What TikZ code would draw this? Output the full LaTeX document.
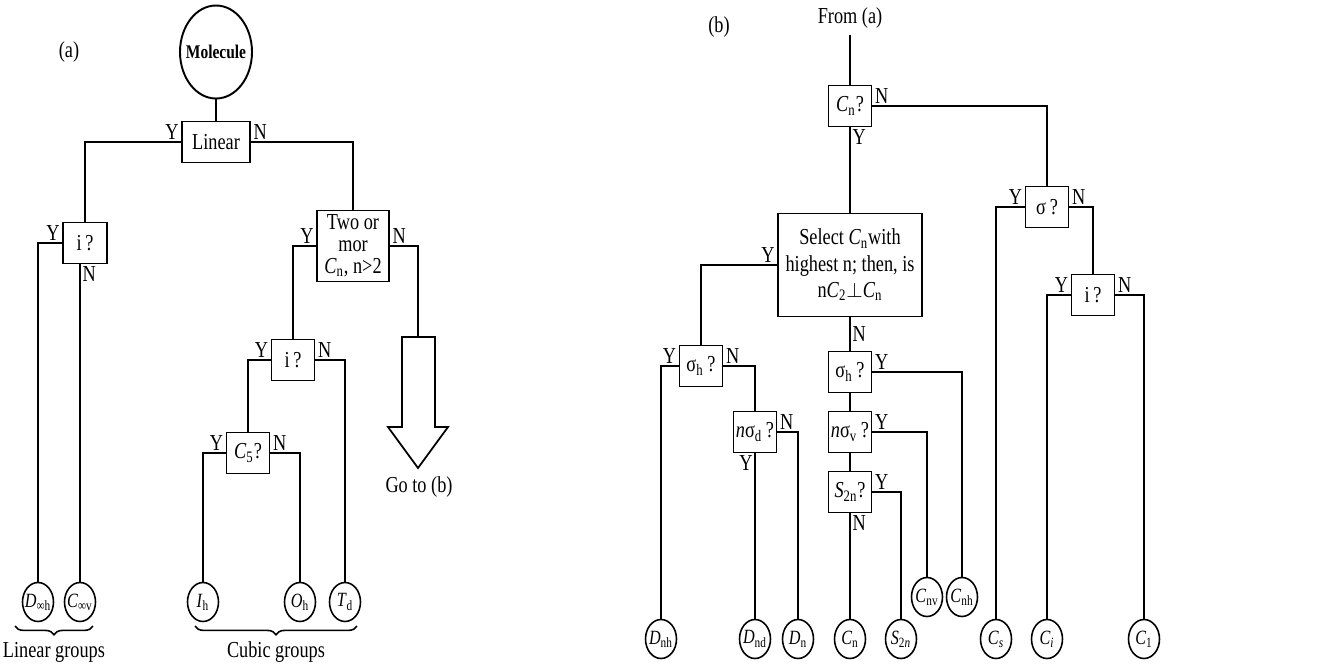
\documentclass[tikz,border=0pt]{standalone}
\usepackage{fontspec}
\setmainfont[FakeStretch=0.8]{Liberation Serif}
\usepackage{tikz}
\usetikzlibrary{shapes.geometric,decorations.pathreplacing,calc}
\newcommand{\grp}[2]{\textit{#1}\textsubscript{#2}}

\begin{document}
\begin{tikzpicture}[x=0.2mm,y=-0.2mm,line width=0.9pt,
	every node/.append style={font=\fontsize{13}{14}\selectfont},
	box/.style={draw,line width=1.1pt,inner sep=0pt,align=center,minimum width=8.6mm,minimum height=8.2mm},
	grp/.style={draw,ellipse,line width=0.9pt,inner sep=-1.5pt,minimum width=6.2mm,minimum height=7.8mm,font=\fontsize{11.5}{12}\selectfont},
	yn/.style={inner sep=1pt}]
	\useasboundingbox (0,0) rectangle (1322,667);
	% (a)
	\node (la) at (69,52) {(a)};
	\node[draw,ellipse,line width=1.1pt,minimum width=14.4mm,minimum height=18.6mm,inner sep=-3.5pt,font=\fontsize{11}{12}\selectfont\bfseries] (mol) at (216,52) {Molecule};
	\node[box,minimum width=13.6mm] (lin) at (216,142) {Linear};
	\node[box,minimum width=8.8mm] (ia) at (85,243) {i\,?};
	\node[box,minimum width=14.4mm,minimum height=14.2mm,font=\fontsize{13}{12.5}\selectfont] (two) at (353,246) {Two or\\mor\\\grp{C}{n}, n>2};
	\node[box] (ib) at (293,360) {i\,?};
	\node[box] (cfive) at (248,453) {\grp{C}{5}?};
	\node[grp] (dinfh) at (38,602) {\grp{D}{∞h}};
	\node[grp] (cinfv) at (80,602) {\grp{C}{∞v}};
	\node[grp] (ih) at (203,602) {\grp{I}{h}};
	\node[grp] (oh) at (300,602) {\grp{O}{h}};
	\node[grp] (td) at (345,602) {\grp{T}{d}};
	\coordinate (arr) at (418,337);
	\draw[line width=1pt] (arr) -- (402,337) -- (402,427) -- (388,427) -- (418,468) -- (448,427) -- (435,427) -- (435,337) -- cycle;
	\node (goto) at (419,487) {Go to (b)};

	\draw (mol) -- (lin);
	\draw (lin.west) -| (ia.north) node[yn,at start,above left] {Y};
	\draw (lin.east) -| (two.north) node[yn,at start,above right] {N};
	\draw (ia.west) -| (dinfh.north) node[yn,at start,above left] {Y};
	\draw (cinfv.north |- ia.south) -- (cinfv.north) node[yn,at start,below right] {N};
	\draw (two.west) -| (ib.north) node[yn,at start,above left] {Y};
	\draw (two.east) -| (arr) node[yn,at start,above right] {N};
	\draw (ib.west) -| (cfive.north) node[yn,at start,above left] {Y};
	\draw (ib.east) -| (td.north) node[yn,at start,above right] {N};
	\draw (cfive.west) -| (ih.north) node[yn,at start,above left] {Y};
	\draw (cfive.east) -| (oh.north) node[yn,at start,above right] {N};

	\draw[decorate,decoration={brace,mirror,amplitude=5pt}] (15,626) -- (93,626);
	\node (lg) at (54,652) {Linear groups};
	\draw[decorate,decoration={brace,mirror,amplitude=5pt}] (195,626) -- (357,626);
	\node (cg) at (276,652) {Cubic groups};

	% (b)
	\node (lb) at (719,27) {(b)};
	\node (from) at (850,18) {From (a)};
	\node[box] (cn) at (850,106) {\grp{C}{n}?};
	\node[box,minimum width=28.8mm,minimum height=20.6mm,font=\fontsize{13}{15}\selectfont] (sel) at (850,265) {Select \grp{C}{n}with\\highest n; then, is\\n\grp{C}{2}$\perp$\grp{C}{n}};
	\node[box] (sig) at (1047,207) {σ\,?};
	\node[box] (ic) at (1093,295) {i\,?};
	\node[box] (sha) at (701,366) {σ\textsubscript{h}\,?};
	\node[box] (nsd) at (755,432) {\textit{n}σ\textsubscript{d}\,?};
	\node[box] (shb) at (850,372) {σ\textsubscript{h}\,?};
	\node[box] (nsv) at (850,432) {\textit{n}σ\textsubscript{v}\,?};
	\node[box] (stn) at (850,492) {\grp{S}{2n}?};

	\node[grp] (dnh) at (661,639) {\grp{D}{nh}};
	\node[grp] (dnd) at (755,639) {\grp{D}{nd}};
	\node[grp] (dn) at (798,639) {\grp{D}{n}};
	\node[grp] (cnn) at (850,639) {\grp{C}{n}};
	\node[grp] (stwo) at (901,639) {\textit{S}\textsubscript{2\textit{n}}};
	\node[grp] (cnv) at (927,597) {\grp{C}{nv}};
	\node[grp] (cnh) at (962,597) {\grp{C}{nh}};
	\node[grp] (cs) at (996,639) {\textit{C}\textsubscript{\textit{s}}};
	\node[grp] (ci) at (1047,639) {\textit{C}\textsubscript{\textit{i}}};
	\node[grp] (cone) at (1144,639) {\grp{C}{1}};

	\draw (from) -- (cn);
	\draw (cn) -- (sel) node[yn,at start,below right] {Y};
	\draw (cn.east) -| (sig.north) node[yn,at start,above right] {N};
	\draw (sel.west) -| (sha.north) node[yn,at start,above left] {Y};
	\draw (sel) -- (shb) node[yn,midway,right] {N};
	\draw (sha.west) -| (dnh.north) node[yn,at start,above left] {Y};
	\draw (sha.east) -| (nsd.north) node[yn,at start,above right] {N};
	\draw (nsd.east) -| (dn.north) node[yn,at start,above right] {N};
	\draw (nsd) -- (dnd) node[yn,at start,below left] {Y};
	\draw (shb.east) -| (cnh.north) node[yn,at start,above right] {Y};
	\draw (shb) -- (nsv);
	\draw (nsv.east) -| (cnv.north) node[yn,at start,above right] {Y};
	\draw (nsv) -- (stn);
	\draw (stn.east) -| (stwo.north) node[yn,at start,above right] {Y};
	\draw (stn) -- (cnn) node[yn,at start,below right] {N};
	\draw (sig.west) -| (cs.north) node[yn,at start,above left] {Y};
	\draw (sig.east) -| (ic.north) node[yn,at start,above right] {N};
	\draw (ic.west) -| (ci.north) node[yn,at start,above left] {Y};
	\draw (ic.east) -| (cone.north) node[yn,at start,above right] {N};
\end{tikzpicture}
\end{document}
